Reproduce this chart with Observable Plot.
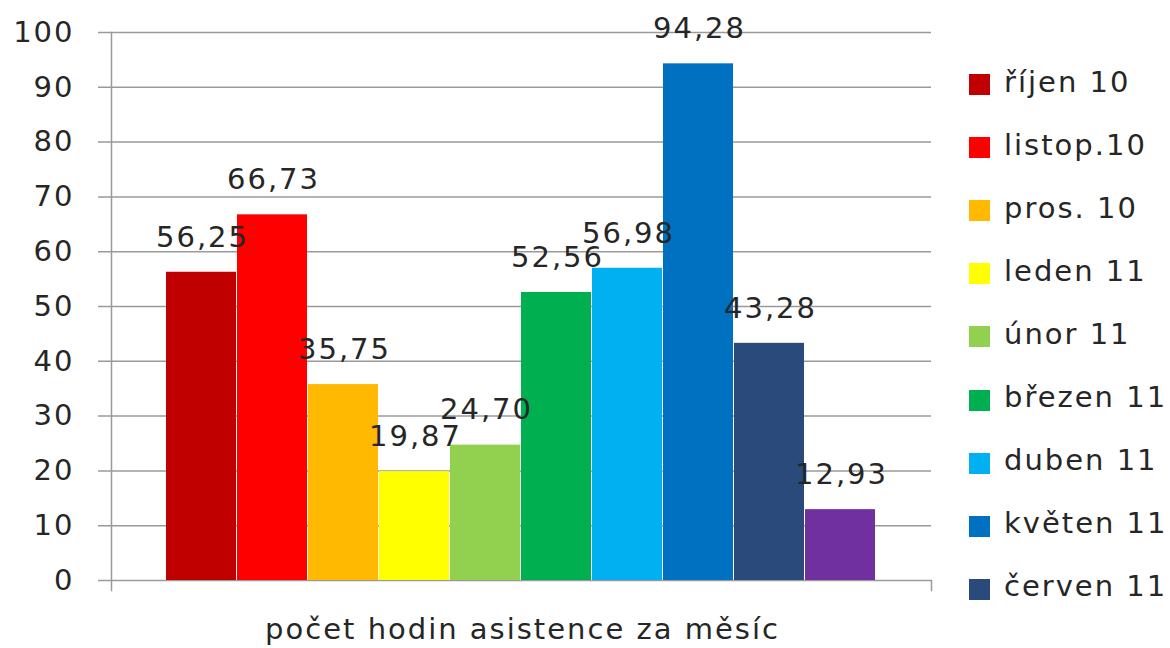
<!DOCTYPE html>
<html>
<head>
<meta charset="utf-8">
<script src="https://cdn.jsdelivr.net/npm/d3@7"></script>
<script src="https://cdn.jsdelivr.net/npm/@observablehq/plot@0.6"></script>
<style>
  html, body { margin: 0; padding: 0; background: #fff; }
  #wrap { position: relative; width: 1170px; height: 648px; overflow: hidden; }
  #wrap svg text { letter-spacing: 2px; }
  #legend { position: absolute; left: 969px; top: 50px; font-family: "DejaVu Sans", sans-serif; font-size: 29px; color: #262626; letter-spacing: 2px; }
  .item { display: flex; align-items: center; height: 63.1px; white-space: nowrap; }
  .sw { width: 21px; height: 21px; margin-right: 14px; margin-top: 6px; flex: none; }
</style>
</head>
<body>
<div id="wrap"></div>
<script>
const months = ["říjen 10", "listop.10", "pros. 10", "leden 11", "únor 11", "březen 11", "duben 11", "květen 11", "červen 11", "červenec 11"];
const hours = [56.25, 66.73, 35.75, 19.87, 24.70, 52.56, 56.98, 94.28, 43.28, 12.93];
const colors = ["#C00000", "#FF0000", "#FFB900", "#FFFF00", "#92D050", "#00B050", "#00B0F0", "#0070C0", "#2A4A7C", "#7030A0"];
const yTicks = [0, 10, 20, 30, 40, 50, 60, 70, 80, 90, 100];
const legendMonths = months.slice(0, 9);
const axisTitle = "počet hodin asistence za měsíc";

const data = months.map((m, i) => ({month: m, value: hours[i]}));
const fmt = v => v.toFixed(2).replace(".", ",");
const font = "DejaVu Sans";

const chart = Plot.plot({
  width: 1170,
  height: 648,
  marginLeft: 111,
  marginRight: 239,
  marginTop: 32,
  marginBottom: 68,
  style: {fontFamily: font, fontSize: "29px", color: "#262626", background: "#fff"},
  x: {domain: months, paddingInner: 0.014, paddingOuter: 0.75, axis: null},
  y: {domain: [0, 100], ticks: yTicks, label: null},
  color: {domain: months, range: colors},
  marks: [
    Plot.gridY(yTicks, {stroke: "#9a9a9a", strokeOpacity: 1, strokeWidth: 1.5, insetLeft: -13}),
    Plot.axisY(yTicks, {tickSize: 0, tickPadding: 37, fontSize: 29, fill: "#262626", label: null}),
    Plot.frame({anchor: "left", stroke: "#9a9a9a", strokeWidth: 1.5, insetBottom: -10}),
    Plot.frame({anchor: "right", stroke: "#9a9a9a", strokeWidth: 1.5, insetTop: 548, insetBottom: -10}),
    Plot.barY(data, {x: "month", y: "value", fill: "month"}),
    Plot.text(data, {x: "month", y: "value", text: d => fmt(d.value), dy: -35, dx: 1, fontSize: 29, fill: "#262626"}),
    Plot.text([axisTitle], {frameAnchor: "bottom", dy: 58, dx: 1, fontSize: 29, fill: "#262626"})
  ]
});
document.getElementById("wrap").appendChild(chart);

const legend = document.createElement("div");
legend.id = "legend";
legendMonths.forEach((m, i) => {
  const it = document.createElement("div");
  it.className = "item";
  it.innerHTML = `<span class="sw" style="background:${colors[i]}"></span><span>${m}</span>`;
  legend.appendChild(it);
});
document.getElementById("wrap").appendChild(legend);
</script>
</body>
</html>
